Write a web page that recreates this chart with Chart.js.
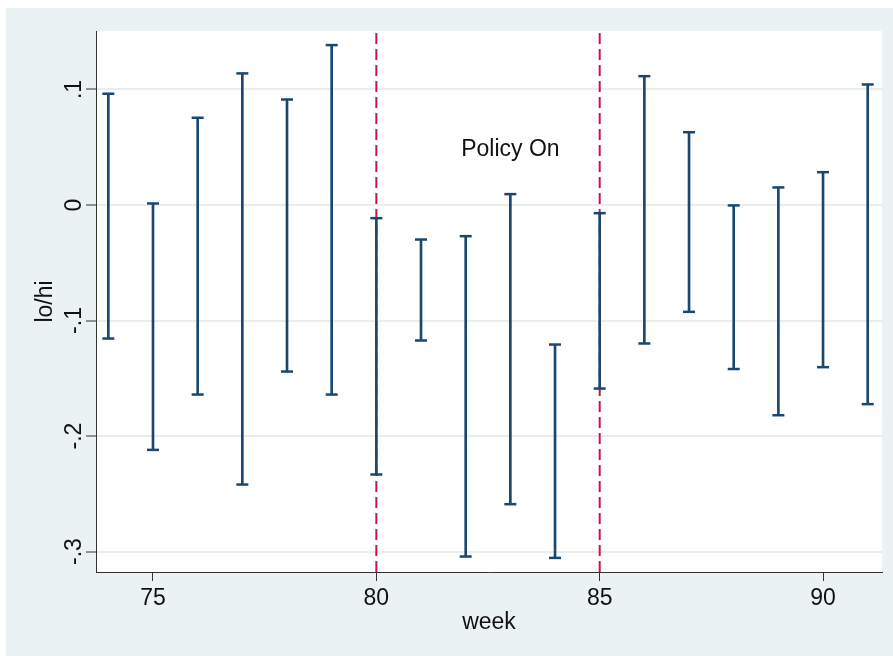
<!DOCTYPE html>
<html>
<head>
<meta charset="utf-8">
<script src="https://cdn.jsdelivr.net/npm/chart.js@4.4.0/dist/chart.umd.min.js"></script>
<style>
  body { margin: 0; background: #ffffff; }
  #marco { position: absolute; left: 6px; top: 8px; width: 887px; height: 648px; background: #EAF2F3; }
</style>
</head>
<body>
<div id="marco"><canvas id="grafico" width="887" height="648"></canvas></div>
<script>
// datos
const semanas = [74, 75, 76, 77, 78, 79, 80, 81, 82, 83, 84, 85, 86, 87, 88, 89, 90, 91];
const altos = [0.0963, 0.0013, 0.0755, 0.1139, 0.0913, 0.1384, -0.0114, -0.0299, -0.0270, 0.0094, -0.1208, -0.0071, 0.1115, 0.0630, -0.0004, 0.0152, 0.0284, 0.1043];
const bajos = [-0.1156, -0.2120, -0.1641, -0.2420, -0.1442, -0.1641, -0.2333, -0.1173, -0.3043, -0.2590, -0.3055, -0.1589, -0.1199, -0.0925, -0.1420, -0.1820, -0.1404, -0.1724];
const lineasPolitica = [80, 85];
const ticksX = [75, 80, 85, 90];
const ticksY = [-0.3, -0.2, -0.1, 0, 0.1];
const etiquetasY = ['-.3', '-.2', '-.1', '0', '.1'];
const textoPolitica = 'Policy On';

const xMin = 73.724, xMax = 91.32;
const yMin = -0.3177, yMax = 0.1506;

const azul = '#1A476F';
const rojo = '#CB1442';
const fuente = "'Liberation Sans', Arial, sans-serif";
const tam = 23;

const datasetsRojos = lineasPolitica.map(s => ({
    type: 'line',
    data: [{x: s, y: yMin}, {x: s, y: yMax}],
    borderColor: rojo,
    borderWidth: 2,
    borderDash: [11, 5],
    pointRadius: 0,
    order: 3
}));

// fondo blanco del area del grafico
const fondoPlugin = {
    id: 'fondo',
    beforeDraw(chart) {
        const a = chart.chartArea;
        chart.ctx.save();
        chart.ctx.fillStyle = '#ffffff';
        chart.ctx.fillRect(a.left, a.top, a.right - a.left, a.bottom - a.top);
        chart.ctx.restore();
    }
};

// etiquetas del eje y rotadas y texto "Policy On"
const textosPlugin = {
    id: 'textos',
    afterDraw(chart) {
        const ctx = chart.ctx;
        const ey = chart.scales.y;
        const ex = chart.scales.x;
        ctx.save();
        ctx.fillStyle = '#111';
        ctx.font = tam + 'px ' + fuente;
        ctx.textAlign = 'center';
        ctx.textBaseline = 'middle';
        ticksY.forEach((v, i) => {
            const py = ey.getPixelForValue(v);
            ctx.save();
            ctx.translate(69, py);
            ctx.rotate(-Math.PI / 2);
            ctx.fillText(etiquetasY[i], 0, 0);
            ctx.restore();
        });
        ctx.fillText(textoPolitica, ex.getPixelForValue(83), ey.getPixelForValue(0.0475));
        ctx.restore();
    }
};

const config = {
    type: 'bar',
    data: {
        datasets: [
            ...datasetsRojos,
            {
                type: 'bar',
                data: semanas.map((s, i) => ({x: s, y: [bajos[i], altos[i]]})),
                backgroundColor: azul,
                borderWidth: 0,
                barThickness: 2,
                order: 2
            },
            {
                type: 'line',
                data: semanas.flatMap((s, i) => [{x: s, y: altos[i]}, {x: s, y: bajos[i]}]),
                showLine: false,
                pointStyle: 'line',
                pointRadius: 6,
                pointHoverRadius: 6,
                pointBorderWidth: 2.5,
                pointBorderColor: azul,
                borderColor: azul,
                order: 1
            }
        ]
    },
    options: {
        responsive: false,
        animation: false,
        events: [],
        layout: { padding: { top: 23, right: 11, left: 0, bottom: 0 } },
        plugins: { legend: { display: false }, tooltip: { enabled: false } },
        scales: {
            x: {
                type: 'linear',
                min: xMin,
                max: xMax,
                offset: false,
                afterBuildTicks: s => { s.ticks = ticksX.map(v => ({value: v})); },
                afterFit: s => { s.height = 84; },
                grid: { offset: false, drawOnChartArea: false, drawTicks: true, tickLength: 9, tickColor: '#333', tickWidth: 1 },
                border: { color: '#333', width: 1 },
                ticks: { color: '#111', font: { family: fuente, size: tam }, padding: 4, maxRotation: 0 },
                title: { display: true, text: 'week', color: '#111', font: { family: fuente, size: tam }, padding: { top: 0, bottom: 20 } }
            },
            y: {
                type: 'linear',
                min: yMin,
                max: yMax,
                afterBuildTicks: s => { s.ticks = ticksY.map(v => ({value: v})); },
                afterFit: s => { s.width = 90; },
                grid: { color: '#E6EEF0', lineWidth: 2, tickLength: 10, tickColor: '#333', tickWidth: 1 },
                border: { color: '#333', width: 1 },
                ticks: { display: false },
                title: { display: true, text: 'lo/hi', color: '#111', font: { family: fuente, size: tam }, padding: { top: 26, bottom: 0 } }
            }
        }
    },
    plugins: [fondoPlugin, textosPlugin]
};

new Chart(document.getElementById('grafico').getContext('2d'), config);
</script>
</body>
</html>
